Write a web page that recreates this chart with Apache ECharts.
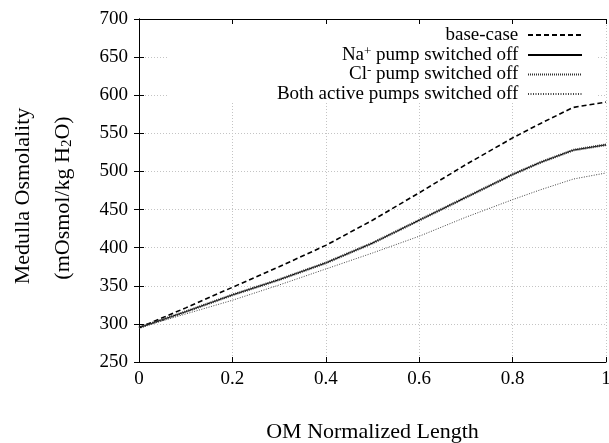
<!DOCTYPE html>
<html>
<head>
<meta charset="utf-8">
<script src="https://cdn.jsdelivr.net/npm/echarts@6/dist/echarts.min.js"></script>
<style>
html,body{margin:0;padding:0;background:#fff;}
#chart{width:609px;height:443px;}
</style>
</head>
<body>
<div id="chart"></div>
<script>
// ---- data ----
const xPositions = [0, 0.1, 0.2, 0.3, 0.4, 0.5, 0.6, 0.7, 0.8, 0.86, 0.93, 1];
const baseCase   = [295, 321, 348, 375, 403, 436, 472, 509, 544, 563, 584, 591];
const naOff      = [295, 316, 338, 358, 380, 406, 436, 466, 496, 512, 528, 535];
const clOff      = [295, 316, 338, 358, 380, 406, 436, 466, 496, 512, 528, 535];
const bothOff    = [295, 313, 331, 351, 372, 393, 415, 440, 463, 476, 490, 498];
const seriesNames = ['base-case', 'Na+ pump switched off', 'Cl- pump switched off', 'Both active pumps switched off'];
const xTicks = [0, 0.2, 0.4, 0.6, 0.8, 1];
const yTicks = [250, 300, 350, 400, 450, 500, 550, 600, 650, 700];

const FONT = '"Liberation Serif", "Times New Roman", serif';
const pair = (ys) => xPositions.map((x, i) => [x, ys[i]]);

const richText = {
  t:   {fontFamily: FONT, fontSize: 19, color: '#000', lineHeight: 20},
  sup: {fontFamily: FONT, fontSize: 13, color: '#000', lineHeight: 9, verticalAlign: 'top'}
};
const legendLabels = {
  'base-case': '{t|base-case }',
  'Na+ pump switched off': '{t|Na}{sup|+}{t| pump switched off }',
  'Cl- pump switched off': '{t|Cl}{sup|-}{t| pump switched off }',
  'Both active pumps switched off': '{t|Both active pumps switched off }'
};
const rowCenters = [35, 55, 74.5, 94];

const legends = seriesNames.map((n, i) => ({
  data: [n],
  orient: 'horizontal',
  align: 'right',
  right: 26,
  top: rowCenters[i] - 10,
  padding: 0,
  itemWidth: 54,
  itemHeight: 20,
  selectedMode: false,
  itemStyle: {opacity: 0},
  formatter: (name) => legendLabels[name],
  textStyle: {fontFamily: FONT, fontSize: 19, color: '#000', lineHeight: 20, rich: richText}
}));

const axisCommonX = {
  type: 'value', min: xTicks[0], max: xTicks[xTicks.length - 1], interval: 0.2
};
const axisCommonY = {
  type: 'value', min: yTicks[0], max: yTicks[yTicks.length - 1], interval: 50
};

const chart = echarts.init(document.getElementById('chart'), null, {renderer: 'canvas'});
chart.setOption({
  animation: false,
  backgroundColor: '#fff',
  grid: {left: 139, right: 3, top: 19, bottom: 81, containLabel: false, outerBoundsMode: 'none'},
  legend: legends,
  xAxis: [
    Object.assign({}, axisCommonX, {
      position: 'bottom',
      name: 'OM Normalized Length',
      nameLocation: 'middle',
      nameGap: 59,
      nameTextStyle: {fontFamily: FONT, fontSize: 22, color: '#000'},
      axisLine: {lineStyle: {color: '#000', width: 1}},
      axisTick: {inside: true, length: 5, lineStyle: {color: '#000'}},
      axisLabel: {fontFamily: FONT, fontSize: 19, color: '#000', margin: 8,
        formatter: (v) => String(v)},
      splitLine: {show: true, lineStyle: {color: '#c4c4c4', type: [1, 2], width: 1}}
    }),
    Object.assign({}, axisCommonX, {
      position: 'top',
      axisLine: {lineStyle: {color: '#000', width: 1}},
      axisTick: {inside: true, length: 5, lineStyle: {color: '#000'}},
      axisLabel: {show: false},
      splitLine: {show: false}
    })
  ],
  yAxis: [
    Object.assign({}, axisCommonY, {
      position: 'left',
      axisLine: {show: true, lineStyle: {color: '#000', width: 1}},
      axisTick: {show: true, inside: true, length: 5, lineStyle: {color: '#000'}},
      axisLabel: {fontFamily: FONT, fontSize: 19, color: '#000', margin: 11},
      splitLine: {show: true, lineStyle: {color: '#c4c4c4', type: [1, 2], width: 1}}
    }),
    Object.assign({}, axisCommonY, {
      position: 'right',
      axisLine: {show: true, lineStyle: {color: '#000', width: 1}},
      axisTick: {show: true, inside: true, length: 5, lineStyle: {color: '#000'}},
      axisLabel: {show: false},
      splitLine: {show: false}
    })
  ],
  graphic: [
    {type: 'rect', z: 1, silent: true,
     shape: {x: 167, y: 25, width: 431, height: 77},
     style: {fill: '#fff'}},
    {type: 'text', z: 5, silent: true, x: 23, y: 196, rotation: Math.PI / 2,
     style: {text: 'Medulla Osmolality', fontFamily: FONT, fontSize: 22, fill: '#000',
       align: 'center', verticalAlign: 'middle'}},
    {type: 'text', z: 5, silent: true, x: 63, y: 198, rotation: Math.PI / 2,
     style: {text: '{n|(mOsmol/kg H}{s|2}{n|O)}', fontFamily: FONT, fontSize: 22, fill: '#000',
       align: 'center', verticalAlign: 'middle',
       rich: {
         n: {fontFamily: FONT, fontSize: 22, fill: '#000', lineHeight: 24},
         s: {fontFamily: FONT, fontSize: 15, fill: '#000', lineHeight: 12, verticalAlign: 'bottom'}
       }}}
  ],
  series: [
    {name: seriesNames[0], type: 'line', data: pair(baseCase), symbol: 'none', z: 3,
     lineStyle: {color: '#000', width: 1.6, type: [5, 3]}},
    {name: seriesNames[1], type: 'line', data: pair(naOff), symbol: 'none', z: 3,
     lineStyle: {color: '#000', width: 1, type: 'solid'}},
    {name: seriesNames[2], type: 'line', data: pair(clOff), symbol: 'none', z: 4,
     lineStyle: {color: '#333', width: 2.6, type: [1, 1]}},
    {name: seriesNames[3], type: 'line', data: pair(bothOff), symbol: 'none', z: 3,
     lineStyle: {color: '#444', width: 1, type: [1, 1.5]}}
  ]
});
</script>
</body>
</html>
